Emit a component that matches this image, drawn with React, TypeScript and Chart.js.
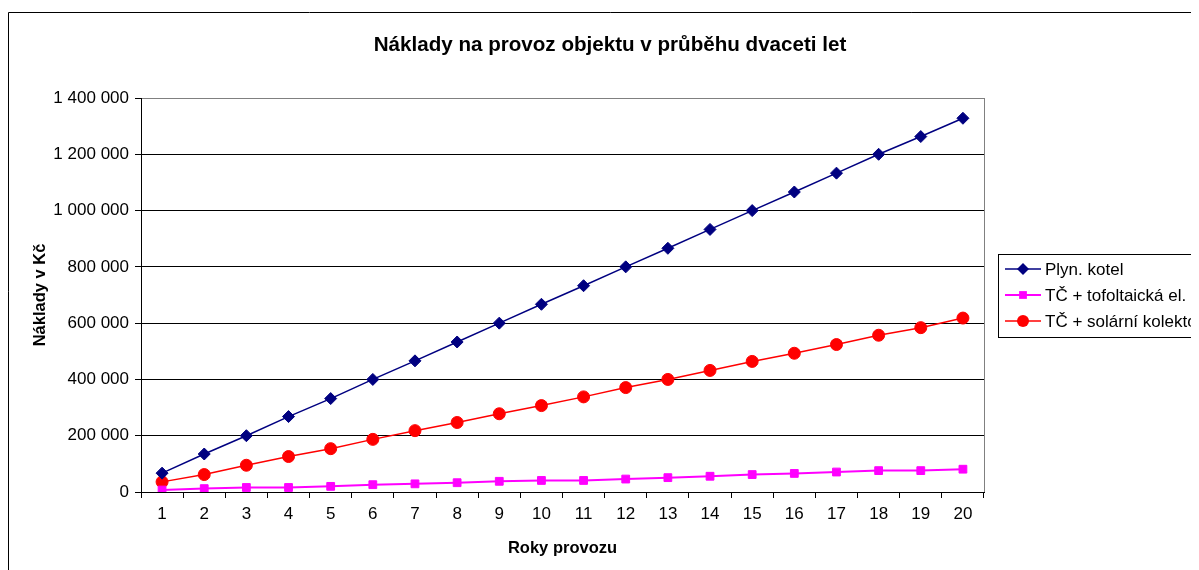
import { useEffect, useRef } from 'react';
import { Chart, registerables } from 'chart.js';

Chart.register(...registerables);

const FONT = '"Liberation Sans", Arial, Helvetica, sans-serif';

const chartTitle = 'Náklady na provoz objektu v průběhu dvaceti let';
const xTitle = 'Roky provozu';
const yTitle = 'Náklady v Kč';

const years = ['1', '2', '3', '4', '5', '6', '7', '8', '9', '10', '11', '12', '13', '14', '15', '16', '17', '18', '19', '20'];

const seriesNames = ['Plyn. kotel', 'TČ + tofoltaická el.', 'TČ + solární kolektor'];

const plynKotel = [67000, 135000, 200000, 268000, 332000, 400000, 466000, 533000, 600000, 667000, 733000, 800000, 866000, 933000, 1000000, 1066000, 1133000, 1200000, 1263000, 1328000];
const tcFotovoltaika = [7000, 12000, 16000, 16000, 20000, 26000, 29000, 33000, 38000, 41000, 41000, 46000, 51000, 56000, 62000, 66000, 71000, 76000, 76000, 81000];
const tcSolar = [36000, 62000, 95000, 126000, 154000, 187000, 218000, 247000, 278000, 307000, 338000, 371000, 400000, 432000, 464000, 493000, 524000, 557000, 584000, 618000];

const yMin = 0;
const yMax = 1400000;
const yStep = 200000;

const colors = ['#000080', '#FF00FF', '#FF0000'];
const pointStyles = ['rectRot', 'rect', 'circle'];
const pointRadii = [6, 5.5, 6];
const lineWidths = [1.5, 2, 1.5];

const fmt = (v: number) => String(v).replace(/\B(?=(\d{3})+(?!\d))/g, ' ');

function drawMarker(ctx: CanvasRenderingContext2D, style: string, x: number, y: number, r: number) {
  ctx.beginPath();
  if (style === 'rectRot') {
    ctx.moveTo(x - r, y);
    ctx.lineTo(x, y - r);
    ctx.lineTo(x + r, y);
    ctx.lineTo(x, y + r);
    ctx.closePath();
  } else if (style === 'rect') {
    const s = Math.SQRT1_2 * r;
    ctx.rect(x - s, y - s, 2 * s, 2 * s);
  } else {
    ctx.arc(x, y, r, 0, Math.PI * 2);
  }
  ctx.fill();
}

const decor = {
  id: 'decor',
  afterDraw(chart: any) {
    const { ctx, chartArea: ca } = chart;
    ctx.save();
    // outer chart frame
    ctx.strokeStyle = '#000';
    ctx.lineWidth = 1;
    ctx.beginPath();
    ctx.moveTo(0.5, chart.height);
    ctx.lineTo(0.5, 4.5);
    ctx.lineTo(chart.width, 4.5);
    ctx.stroke();
    // plot area right border
    const rx = Math.round(ca.right) + 0.5;
    ctx.strokeStyle = '#808080';
    ctx.beginPath();
    ctx.moveTo(rx, Math.round(ca.top));
    ctx.lineTo(rx, Math.round(ca.bottom));
    ctx.stroke();
    // title
    ctx.fillStyle = '#000';
    ctx.font = `bold 20.6px ${FONT}`;
    ctx.textAlign = 'center';
    ctx.textBaseline = 'middle';
    ctx.fillText(chartTitle, 602, 37.5);
    // legend
    const lx = 990.5, ly = 246.5;
    ctx.strokeStyle = '#000';
    ctx.lineWidth = 1;
    ctx.strokeRect(lx, ly, 320, 83);
    ctx.font = `17px ${FONT}`;
    ctx.textAlign = 'left';
    chart.data.datasets.forEach((ds: any, i: number) => {
      const cy = 261 + i * 26;
      ctx.strokeStyle = ds.borderColor;
      ctx.lineWidth = ds.borderWidth;
      ctx.beginPath();
      ctx.moveTo(997, cy);
      ctx.lineTo(1033, cy);
      ctx.stroke();
      ctx.fillStyle = ds.pointBackgroundColor;
      drawMarker(ctx, ds.pointStyle, 1015, cy, ds.pointRadius);
      ctx.fillStyle = '#000';
      ctx.fillText(ds.label, 1037, cy + 1);
    });
    ctx.restore();
  },
};

export default function App() {
  const ref = useRef<HTMLCanvasElement>(null);

  useEffect(() => {
    if (!ref.current) return;
    document.documentElement.style.overflow = 'hidden';
    const series = [plynKotel, tcFotovoltaika, tcSolar];
    const chart = new Chart(ref.current, {
      type: 'line',
      data: {
        labels: years,
        datasets: series.map((data, i) => ({
          label: seriesNames[i],
          data,
          borderColor: colors[i],
          backgroundColor: colors[i],
          pointBackgroundColor: colors[i],
          pointBorderColor: colors[i],
          pointBorderWidth: 1,
          pointStyle: pointStyles[i] as any,
          pointRadius: pointRadii[i],
          pointHoverRadius: pointRadii[i],
          borderWidth: lineWidths[i],
          tension: 0,
          fill: false,
        })),
      },
      options: {
        responsive: false,
        animation: false,
        events: [],
        layout: { padding: { top: 90, left: 0, right: 228, bottom: 0 } },
        plugins: {
          legend: { display: false },
          title: { display: false },
          tooltip: { enabled: false },
        },
        scales: {
          x: {
            type: 'category',
            offset: true,
            grid: {
              display: true,
              drawOnChartArea: false,
              drawTicks: true,
              tickLength: 6,
              offset: true,
              color: '#000',
            },
            border: { display: true, color: '#000', width: 1 },
            ticks: {
              color: '#000',
              font: { family: FONT, size: 17 },
              padding: 6,
              maxRotation: 0,
              autoSkip: false,
            },
            title: {
              display: true,
              text: xTitle,
              color: '#000',
              font: { family: FONT, size: 16.5, weight: 'bold', lineHeight: 1.2 },
              padding: { top: 0, bottom: 12 },
            },
            afterFit: (s: any) => { s.height = 78; },
          },
          y: {
            min: yMin,
            max: yMax,
            grid: {
              color: (c: any) => (c.tick && c.tick.value === yMax ? '#808080' : '#000'),
              tickColor: '#000',
              tickLength: 6,
              lineWidth: 1,
            },
            border: { display: true, color: '#000', width: 1 },
            ticks: {
              stepSize: yStep,
              color: '#000',
              font: { family: FONT, size: 17 },
              padding: 6,
              callback: (v: any) => fmt(Number(v)),
            },
            title: {
              display: true,
              text: yTitle,
              color: '#000',
              font: { family: FONT, size: 16.5, weight: 'bold', lineHeight: 1.2 },
              padding: { top: 23, bottom: 0 },
            },
            afterFit: (s: any) => { s.width = 133; },
          },
        },
      },
      plugins: [decor],
    });
    return () => chart.destroy();
  }, []);

  return (
    <div style={{ width: 1191, height: 562, overflow: 'hidden', position: 'relative' }}>
      <canvas ref={ref} width={1204} height={562} style={{ display: 'block', width: 1204, height: 562 }} />
    </div>
  );
}
